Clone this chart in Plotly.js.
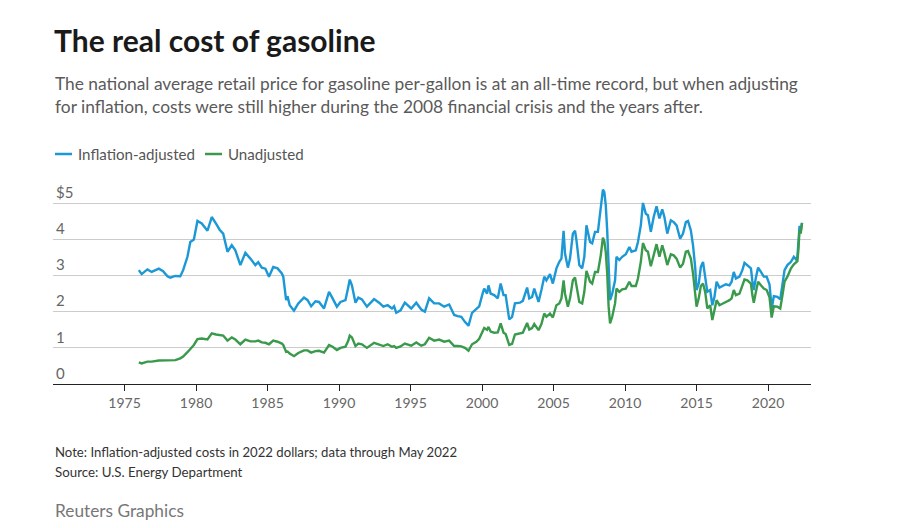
<!DOCTYPE html>
<html>
<head>
<meta charset="utf-8">
<script src="https://cdn.plot.ly/plotly-3.0.1.min.js"></script>
<style>
html,body{margin:0;padding:0;background:#fff;}
#chart{width:901px;height:528px;}
</style>
</head>
<body>
<div id="chart"></div>
<script>
// Decimal year of each reading
const years = [
1976.0,1976.2,1976.6,1976.9,1977.4,1977.7,1978.0,1978.2,1978.55,1978.9,
1979.1,1979.4,1979.6,1979.85,1980.1,1980.4,1980.8,1981.1,1981.4,1981.65,
1981.9,1982.2,1982.5,1982.75,1983.1,1983.45,1983.8,1984.15,1984.35,1984.6,
1984.85,1985.1,1985.4,1985.7,1986.0,1986.1,1986.3,1986.4,1986.55,1986.85,
1987.15,1987.55,1987.8,1988.05,1988.35,1988.6,1988.95,1989.3,1989.55,1989.85,
1990.1,1990.45,1990.65,1990.75,1990.9,1991.15,1991.35,1991.6,1991.95,1992.45,
1992.8,1993.1,1993.4,1993.7,1993.85,1994.0,1994.3,1994.6,1995.05,1995.4,
1995.75,1996.0,1996.3,1996.65,1997.0,1997.35,1997.7,1998.05,1998.3,1998.55,
1998.8,1999.05,1999.3,1999.6,1999.8,2000.05,2000.15,2000.35,2000.45,2000.6,
2000.85,2001.1,2001.3,2001.5,2001.65,2001.9,2002.1,2002.3,2002.65,2002.85,
2003.15,2003.3,2003.5,2003.65,2003.95,2004.15,2004.35,2004.5,2004.75,2004.95,
2005.2,2005.4,2005.55,2005.7,2005.8,2006.0,2006.15,2006.35,2006.5,2006.6,
2006.8,2007.0,2007.15,2007.3,2007.55,2007.7,2007.9,2008.1,2008.3,2008.45,
2008.55,2008.65,2008.75,2008.85,2008.95,2009.1,2009.3,2009.4,2009.6,2009.8,
2010.05,2010.3,2010.45,2010.75,2010.9,2011.1,2011.25,2011.45,2011.6,2011.8,
2012.0,2012.2,2012.4,2012.6,2012.75,2012.95,2013.2,2013.4,2013.6,2013.85,
2014.05,2014.25,2014.4,2014.6,2014.75,2014.9,2015.0,2015.15,2015.3,2015.45,
2015.6,2015.75,2015.95,2016.1,2016.25,2016.4,2016.6,2016.8,2017.05,2017.3,
2017.45,2017.6,2017.75,2018.0,2018.2,2018.35,2018.55,2018.8,2018.9,2019.0,
2019.15,2019.3,2019.5,2019.7,2019.9,2020.1,2020.25,2020.4,2020.65,2020.85,
2021.0,2021.15,2021.35,2021.6,2021.8,2021.95,2022.05,2022.12,2022.2,2022.28,
2022.37
];
// Inflation-adjusted price, 2022 dollars per gallon
const adjusted = [
3.15,3.04,3.17,3.10,3.19,3.12,2.98,2.94,2.99,2.98,
3.15,3.52,3.93,4.00,4.51,4.44,4.24,4.62,4.44,4.27,
4.16,3.66,3.84,3.70,3.29,3.63,3.47,3.29,3.37,3.22,
3.19,2.97,3.24,3.20,3.06,2.97,2.32,2.43,2.18,2.03,
2.23,2.39,2.32,2.15,2.29,2.27,2.09,2.55,2.37,2.14,
2.27,2.32,2.69,2.89,2.73,2.25,2.39,2.34,2.14,2.35,
2.25,2.14,2.18,2.09,2.15,1.97,2.04,2.25,2.09,2.25,
2.06,2.00,2.37,2.23,2.23,2.14,2.20,1.91,1.88,1.86,
1.72,1.61,1.97,2.09,2.15,2.52,2.64,2.50,2.73,2.50,
2.46,2.37,2.78,2.46,2.46,1.79,1.86,2.23,2.25,2.30,
2.67,2.37,2.41,2.64,2.27,2.60,2.97,2.87,3.04,2.78,
3.20,3.38,3.47,4.24,3.61,3.22,3.47,4.16,4.24,3.98,
3.29,3.20,3.52,4.39,3.93,3.89,4.21,4.21,4.94,5.38,
5.31,4.94,4.25,3.01,2.32,2.50,2.87,3.52,3.43,3.52,
3.59,3.79,3.66,3.70,3.93,4.39,5.01,4.71,4.67,4.21,
4.62,4.92,4.58,4.83,4.62,4.16,4.53,4.48,4.39,4.02,
4.16,4.48,4.51,4.25,3.84,3.24,2.60,2.78,3.24,3.38,
3.01,2.55,2.60,2.18,2.41,2.83,2.67,2.71,2.76,2.73,
2.83,3.10,2.92,2.97,3.15,3.35,3.29,3.20,2.85,2.60,
2.95,3.22,3.10,2.97,2.97,2.75,2.09,2.43,2.41,2.34,
2.75,3.15,3.29,3.38,3.52,3.45,3.52,3.85,4.38,4.22,
4.46
];
// Unadjusted (nominal) price, dollars per gallon
const unadjusted = [
0.60,0.57,0.62,0.62,0.65,0.65,0.64,0.64,0.66,0.71,
0.76,0.88,0.98,1.08,1.24,1.26,1.23,1.40,1.37,1.35,
1.34,1.20,1.29,1.23,1.10,1.23,1.18,1.18,1.20,1.15,
1.14,1.10,1.20,1.17,1.12,1.08,0.89,0.90,0.84,0.77,
0.86,0.93,0.93,0.87,0.91,0.92,0.87,1.08,1.03,0.94,
1.00,1.03,1.20,1.34,1.29,1.05,1.12,1.10,1.00,1.14,
1.08,1.05,1.10,1.03,1.05,1.00,1.04,1.12,1.06,1.15,
1.06,1.10,1.28,1.20,1.23,1.17,1.20,1.05,1.05,1.04,
1.00,0.92,1.10,1.17,1.25,1.47,1.55,1.50,1.58,1.45,
1.42,1.43,1.68,1.42,1.38,1.08,1.11,1.37,1.40,1.42,
1.69,1.51,1.55,1.66,1.49,1.66,1.95,1.86,1.95,1.84,
2.18,2.23,2.37,2.87,2.50,2.14,2.37,2.87,2.95,2.72,
2.27,2.23,2.55,3.13,2.83,2.78,3.10,3.10,3.56,4.05,
3.95,3.65,3.06,2.14,1.68,1.86,2.23,2.64,2.55,2.62,
2.64,2.83,2.71,2.71,2.92,3.38,3.90,3.70,3.66,3.26,
3.56,3.87,3.52,3.84,3.63,3.29,3.59,3.56,3.47,3.22,
3.33,3.66,3.68,3.47,3.06,2.60,2.14,2.37,2.71,2.78,
2.55,2.09,2.18,1.77,2.05,2.32,2.18,2.23,2.27,2.32,
2.37,2.60,2.46,2.50,2.73,2.89,2.87,2.78,2.46,2.25,
2.55,2.83,2.73,2.64,2.60,2.40,1.84,2.15,2.14,2.09,
2.45,2.83,2.97,3.20,3.31,3.35,3.40,3.72,4.27,4.16,
4.46
];
const tickYears = [1975,1980,1985,1990,1995,2000,2005,2010,2015,2020];
const tickDollars = [0,1,2,3,4,5];
const seriesNames = ['Inflation-adjusted','Unadjusted'];
const seriesColors = ['#1b98d5','#3a9a4c'];

const W = 901, H = 528;
const Y_MAX = 5.7;
const M = {l:53, r:90, t:178, b:144};
const plotH = H - M.t - M.b, plotW = W - M.l - M.r;
const px2x = p => (p - M.l) / plotW;
const py2y = p => (H - M.b - p) / plotH;

const traces = [
  {x: years, y: adjusted, name: seriesNames[0], type:'scatter', mode:'lines',
   line:{color:seriesColors[0], width:2.4}, hoverinfo:'x+y'},
  {x: years, y: unadjusted, name: seriesNames[1], type:'scatter', mode:'lines',
   line:{color:seriesColors[1], width:2.4}, hoverinfo:'x+y'}
];

const FONT = 'Lato, "Source Sans Pro", "Open Sans", sans-serif';

const layout = {
  width: W, height: H,
  margin: M,
  paper_bgcolor:'#fff', plot_bgcolor:'#fff',
  showlegend:false,
  font:{family:FONT, color:'#666'},
  title:{
    text:'<b>The real cost of gasoline</b>',
    font:{family:FONT, size:30, color:'#1a1a1a'},
    x:54/W, xanchor:'left', xref:'container',
    y:1-41/H, yanchor:'middle', yref:'container'
  },
  xaxis:{
    range:[1970, 2023],
    tickmode:'array', tickvals:tickYears, ticktext:tickYears.map(String),
    showgrid:false, zeroline:false,
    showline:true, linecolor:'#222', linewidth:1.3,
    ticks:'outside', ticklen:6, tickcolor:'#222', tickwidth:1,
    tickfont:{family:FONT, size:14, color:'#666'},
    fixedrange:true
  },
  yaxis:{
    range:[0, Y_MAX],
    tickmode:'array', tickvals:tickDollars, ticktext:tickDollars.map(v => v===5 ? '$'+v : String(v)),
    showgrid:true, gridcolor:'#cccccc', gridwidth:1,
    zeroline:false, showline:false, ticks:'',
    ticklabelposition:'inside top',
    tickfont:{family:FONT, size:15, color:'#666'},
    fixedrange:true
  },
  shapes:[
    {type:'line', xref:'paper', yref:'paper', x0:px2x(55), x1:px2x(72), y0:py2y(154), y1:py2y(154),
     line:{color:seriesColors[0], width:2.5}},
    {type:'line', xref:'paper', yref:'paper', x0:px2x(205), x1:px2x(222), y0:py2y(154), y1:py2y(154),
     line:{color:seriesColors[1], width:2.5}}
  ],
  annotations:[
    {text:'The national average retail price for gasoline per-gallon is at an all-time record, but when adjusting<br>for inflation, costs were still higher during the 2008 financial crisis and the years after.',
     xref:'paper', yref:'paper', x:px2x(53), y:py2y(71), xanchor:'left', yanchor:'top', align:'left',
     showarrow:false, font:{family:FONT, size:17.35, color:'#5a5a5a'}},
    {text:seriesNames[0], xref:'paper', yref:'paper', x:px2x(76), y:py2y(154), xanchor:'left', yanchor:'middle',
     showarrow:false, font:{family:FONT, size:15.1, color:'#555'}},
    {text:seriesNames[1], xref:'paper', yref:'paper', x:px2x(226), y:py2y(154), xanchor:'left', yanchor:'middle',
     showarrow:false, font:{family:FONT, size:15.1, color:'#555'}},
    {text:'Note: Inflation-adjusted costs in 2022 dollars; data through May 2022',
     xref:'paper', yref:'paper', x:px2x(53), y:py2y(452), xanchor:'left', yanchor:'middle',
     showarrow:false, font:{family:FONT, size:13.15, color:'#333'}},
    {text:'Source: U.S. Energy Department',
     xref:'paper', yref:'paper', x:px2x(53), y:py2y(472), xanchor:'left', yanchor:'middle',
     showarrow:false, font:{family:FONT, size:13.3, color:'#333'}},
    {text:'Reuters Graphics',
     xref:'paper', yref:'paper', x:px2x(53), y:py2y(510), xanchor:'left', yanchor:'middle',
     showarrow:false, font:{family:FONT, size:17.3, color:'#777'}}
  ]
};

Plotly.newPlot('chart', traces, layout, {displayModeBar:false, staticPlot:true});
</script>
</body>
</html>
